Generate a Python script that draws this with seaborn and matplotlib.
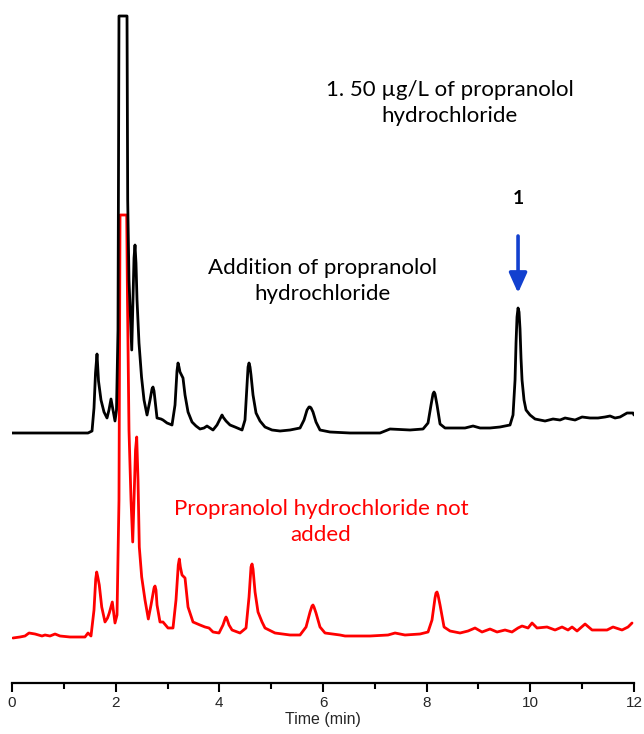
import numpy as np
import pandas as pd
import matplotlib
matplotlib.use("Agg")
import matplotlib.pyplot as plt
import seaborn as sns
from matplotlib.ticker import MultipleLocator

# ---------------- data ----------------
black_time = [0.000, 0.926, 1.466, 1.544, 1.582, 1.611, 1.640, 1.669, 1.717, 1.775, 1.833, 1.871, 1.910,
              1.949, 1.987, 2.016, 2.045, 2.064, 2.219, 2.232, 2.257, 2.310, 2.335, 2.354, 2.373, 2.392,
              2.412, 2.450, 2.499, 2.547, 2.605, 2.663, 2.701, 2.720, 2.740, 2.759, 2.798, 2.875, 2.913,
              2.991, 3.087, 3.145, 3.183, 3.203, 3.222, 3.241, 3.299, 3.338, 3.396, 3.473, 3.550, 3.627,
              3.704, 3.762, 3.820, 3.878, 3.955, 4.033, 4.052, 4.071, 4.129, 4.206, 4.302, 4.438, 4.495,
              4.534, 4.554, 4.573, 4.592, 4.611, 4.650, 4.708, 4.785, 4.881, 5.016, 5.171, 5.364, 5.557,
              5.634, 5.692, 5.730, 5.750, 5.770, 5.807, 5.865, 5.942, 6.135, 6.521, 7.100, 7.293, 7.679,
              7.930, 8.026, 8.084, 8.122, 8.142, 8.161, 8.200, 8.258, 8.354, 8.547, 8.740, 8.895, 9.030,
              9.222, 9.415, 9.608, 9.666, 9.705, 9.724, 9.743, 9.763, 9.782, 9.801, 9.820, 9.840, 9.878,
              9.917, 9.994, 10.091, 10.284, 10.438, 10.573, 10.670, 10.766, 10.863, 10.998, 11.152,
              11.306, 11.441, 11.538, 11.634, 11.731, 11.866, 11.982, 12.000]
black_signal = [0, 0, 0, 2, 25, 60, 79, 52, 33, 21, 15, 23, 34,
                23, 12, 23, 103, 417, 417, 233, 153, 83, 133, 175, 188, 170,
                133, 90, 56, 33, 18, 33, 44, 46, 42, 33, 15, 14, 13,
                10, 8, 28, 62, 70, 66, 61, 55, 38, 21, 11, 7, 4,
                5, 7, 5, 3, 8, 16, 18, 16, 12, 8, 6, 3, 13,
                48, 66, 70, 66, 58, 38, 20, 12, 6, 3, 2, 3, 5,
                13, 23, 26, 26, 25, 21, 11, 3, 1, 0, 0, 4, 3,
                4, 10, 28, 39, 41, 39, 28, 9, 5, 5, 5, 7, 5,
                5, 6, 8, 18, 53, 90, 116, 125, 121, 104, 75, 53, 33,
                23, 18, 14, 12, 14, 13, 15, 14, 13, 16, 15,
                15, 16, 17, 15, 16, 20, 20, 18]

red_time = [0.019, 0.154, 0.251, 0.328, 0.444, 0.579, 0.637, 0.733, 0.830, 0.926, 1.119, 1.408,
            1.466, 1.524, 1.582, 1.615, 1.634, 1.655, 1.684, 1.731, 1.794, 1.843, 1.877, 1.935, 1.987,
            2.026, 2.064, 2.084, 2.213, 2.228, 2.257, 2.296, 2.329, 2.354, 2.383, 2.406, 2.431, 2.456,
            2.502, 2.566, 2.630, 2.682, 2.740, 2.759, 2.778, 2.798, 2.855, 2.913, 3.010, 3.106, 3.164,
            3.208, 3.228, 3.248, 3.280, 3.338, 3.396, 3.492, 3.627, 3.724, 3.801, 3.878, 3.994, 4.071,
            4.110, 4.129, 4.148, 4.187, 4.245, 4.399, 4.515, 4.573, 4.611, 4.631, 4.650, 4.689, 4.746,
            4.824, 4.881, 5.074, 5.364, 5.557, 5.673, 5.750, 5.788, 5.807, 5.826, 5.865, 5.942, 6.039,
            6.328, 6.425, 6.907, 7.255, 7.390, 7.582, 7.872, 8.026, 8.103, 8.161, 8.180, 8.200, 8.219,
            8.258, 8.335, 8.451, 8.644, 8.798, 8.933, 9.068, 9.222, 9.358, 9.512, 9.646, 9.762, 9.840,
            9.956, 10.033, 10.129, 10.322, 10.477, 10.612, 10.727, 10.805, 10.901, 11.056, 11.191,
            11.345, 11.480, 11.595, 11.769, 11.885, 11.962]
red_signal = [-1, 0, 1, 4, 3, 1, 2, 1, 3, 1, 0, 0,
              4, 1, 27, 58, 65, 60, 52, 30, 15, 19, 24, 35, 14,
              22, 137, 422, 422, 337, 207, 137, 95, 137, 187, 200, 157, 90,
              60, 37, 18, 32, 49, 51, 47, 32, 15, 15, 9, 9, 37,
              72, 78, 70, 62, 59, 30, 15, 12, 10, 9, 5, 4, 12,
              18, 20, 18, 12, 7, 4, 9, 40, 70, 73, 68, 45, 25,
              15, 9, 4, 2, 2, 10, 25, 31, 32, 30, 24, 10, 4,
              2, 1, 1, 2, 4, 2, 3, 5, 17, 39, 44, 45, 42,
              32, 10, 6, 4, 6, 9, 5, 8, 5, 7, 5, 9, 11,
              9, 14, 9, 10, 7, 10, 7, 10, 6, 13, 7,
              7, 7, 10, 7, 10, 14]

x_ticks = [0, 2, 4, 6, 8, 10, 12]
x_label = "Time (min)"
label_top = "1. 50 \u00b5g/L of propranolol\nhydrochloride"
label_black = "Addition of propranolol\nhydrochloride"
label_red = "Propranolol hydrochloride not\nadded"
peak_label = "1"
peak_time = 9.763

# ---------------- layout / style ----------------
black_offset = 250
red_offset = 46

sns.set_theme(style="white")
plt.rcParams["font.family"] = ["Liberation Sans", "DejaVu Sans"]

fig = plt.figure(figsize=(6.44, 7.34), dpi=100)
ax = fig.add_axes([12 / 644, 51 / 734, 622 / 644, 683 / 734])

df_black = pd.DataFrame({"t": black_time, "y": np.array(black_signal) + black_offset})
df_red = pd.DataFrame({"t": red_time, "y": np.array(red_signal) + red_offset})

sns.lineplot(data=df_red, x="t", y="y", ax=ax, color="#ff0000", lw=2.0,
             estimator=None, sort=False, solid_joinstyle="round")
sns.lineplot(data=df_black, x="t", y="y", ax=ax, color="black", lw=2.0,
             estimator=None, sort=False, solid_joinstyle="round")

ax.set_xlim(0, 12)
ax.set_ylim(0, 683)
for s in ["left", "right", "top"]:
    ax.spines[s].set_visible(False)
ax.spines["bottom"].set_linewidth(1.6)
ax.spines["bottom"].set_color("black")
ax.set_yticks([])
ax.set_ylabel("")
ax.set_xticks(x_ticks)
ax.xaxis.set_minor_locator(MultipleLocator(1))
ax.tick_params(axis="x", which="major", direction="out", length=6.5, width=1.5,
               color="black", labelsize=11, pad=3, bottom=True)
ax.tick_params(axis="x", which="minor", direction="out", length=4, width=1.5,
               color="black", bottom=True)
ax.set_xlabel(x_label, fontsize=11.5, labelpad=1)

txt_font = ["Lato", "DejaVu Sans"]
ax.text(8.45, 580, label_top, ha="center", va="center", fontsize=16,
        family=txt_font, color="black", linespacing=1.4)
ax.text(5.981, 402, label_black, ha="center", va="center", fontsize=16,
        family=txt_font, color="black", linespacing=1.4)
ax.text(5.962, 161, label_red, ha="center", va="center", fontsize=16,
        family=txt_font, color="#ff0000", linespacing=1.4)
ax.text(peak_time, 485, peak_label, ha="center", va="center", fontsize=14,
        fontweight="bold", family=txt_font, color="black")
ax.annotate("", xy=(peak_time, 390), xytext=(peak_time, 447),
            arrowprops=dict(arrowstyle="-|>,head_length=1.0,head_width=0.45",
                            color="#1240cf", lw=2.6, shrinkA=0, shrinkB=0))

fig.savefig("out.png", dpi=100)
